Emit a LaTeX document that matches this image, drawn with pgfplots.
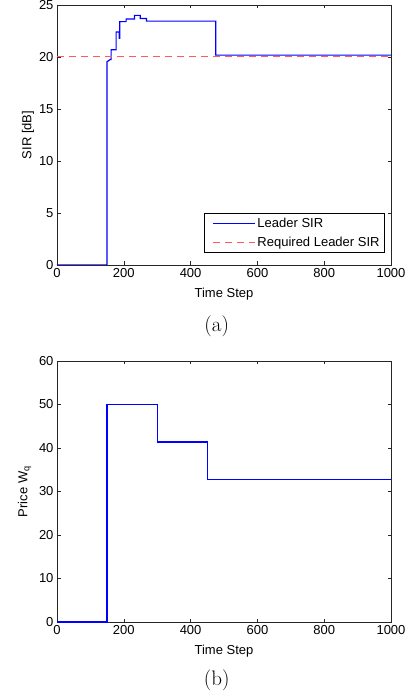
\documentclass[border=0pt]{standalone}
\usepackage{pgfplots}
\pgfplotsset{compat=1.18}
\usepackage{fontspec}
\newfontfamily\arial{Liberation Sans}

\pgfplotsset{
  mstyle/.style={
    scale only axis,
    width=334pt,
    xmin=0, xmax=1000,
    xtick={0,200,400,600,800,1000},
    tick align=inside,
    major tick length=3.5pt,
    axis line style={black!85, line width=0.8pt},
    every tick/.append style={black!85, line width=0.6pt},
    font=\arial\fontsize{13}{15}\selectfont,
    tick label style={font=\arial\fontsize{13}{15}\selectfont},
    /pgf/number format/assume math mode=true,
    scaled ticks=false,
    xticklabel style={/pgf/number format/1000 sep={}},
    xlabel={Time Step},
    xlabel style={yshift=-3pt},
  },
}

\begin{document}
\begin{tikzpicture}
\useasboundingbox (0pt,0pt) rectangle (411pt,697pt);

% (a) SIR
\begin{axis}[mstyle,
    at={(57pt,432pt)}, anchor=south west,
    height=260pt,
    ymin=0, ymax=25,
    ytick={0,5,10,15,20,25},
    ylabel={SIR [dB]},
    ylabel style={yshift=-2pt},
    legend cell align=left,
    legend style={at={(1,0)}, anchor=south east, xshift=-6pt, yshift=12pt,
        draw=black, line width=0.8pt, inner xsep=3pt, inner ysep=3pt,
        row sep=3.7pt,
        font=\arial\fontsize{13}{15}\selectfont},
    legend image code/.code={\path (-5pt,0pt); \draw[#1] (0pt,0pt) -- (42pt,0pt);},
]
\addplot[draw=blue, line width=1.2pt] coordinates {
    (0,0) (150,0) (150,19.55) (159,19.75) (162,19.75) (162,20.7)
    (177,20.7) (177,22.4) (186,22.4) (186,21.8) (188,21.8) (188,23.4)
    (207,23.4) (207,23.65) (232,23.65) (232,24.0) (249,24.0) (249,23.7)
    (268,23.7) (268,23.45) (475,23.45) (475,20.18) (1000,20.18)
};
\addlegendentry{Leader SIR}
\addplot[draw=red!65, line width=1pt, dash pattern=on 7pt off 5pt] coordinates {
    (0,20) (1000,20)
};
\addlegendentry{Required Leader SIR}
\end{axis}

\node[font=\fontsize{21}{24}\selectfont] at (216.7pt,371pt) {(a)};

% (b) Price
\begin{axis}[mstyle,
    at={(57pt,75pt)}, anchor=south west,
    height=261pt,
    ymin=0, ymax=60,
    ytick={0,10,20,30,40,50,60},
    ylabel={Price W\textsubscript{q}},
    ylabel style={yshift=1pt},
]
\addplot[draw=blue, line width=1.2pt] coordinates {
    (0,0) (150,0) (150,50) (300,50) (300,41.4) (450,41.4) (450,32.8) (1000,32.8)
};
\end{axis}

\node[font=\fontsize{21}{24}\selectfont] at (216.7pt,17pt) {(b)};
\end{tikzpicture}
\end{document}
